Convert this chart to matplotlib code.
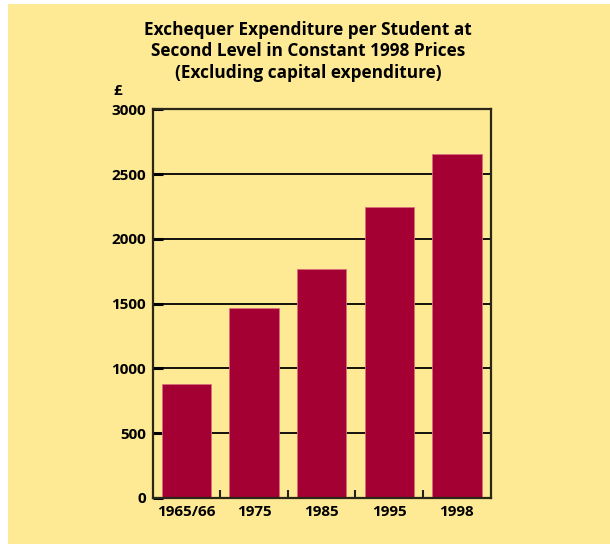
import matplotlib
matplotlib.use("Agg")
import matplotlib.pyplot as plt
from matplotlib.patches import Rectangle
import numpy as np

# values
years = ["1965/66", "1975", "1985", "1995", "1998"]
spend = [880, 1465, 1765, 2245, 2655]
yticks = [0, 500, 1000, 1500, 2000, 2500, 3000]

BG = "#FEE994"
BAR = "#A50034"

plt.rcParams['font.family'] = ['Open Sans', 'DejaVu Sans']

fig = plt.figure(figsize=(6.10, 5.44), dpi=100)
fig.patch.set_facecolor("white")
# yellow panel, white strip on left and top
fig.patches.append(Rectangle((8 / 610, 0), 1, 1 - 4 / 544, transform=fig.transFigure,
                             facecolor=BG, edgecolor="none", zorder=-10))

ax = fig.add_axes([0.2503, 0.0846, 0.8044 - 0.2503, 0.799 - 0.0846])
ax.set_facecolor(BG)

x = np.arange(len(years))
ax.bar(x, spend, width=0.73, color=BAR, edgecolor="#D8707A", linewidth=0.6, zorder=3)

ax.set_xlim(-0.5, len(years) - 0.5)
ax.set_ylim(0, 3000)
ax.set_yticks(yticks)
ax.set_yticklabels([str(v) for v in yticks], fontweight="bold", fontsize=11)
ax.set_xticks(x)
ax.set_xticklabels(years, fontweight="bold", fontsize=11)
ax.set_xticks(x[:-1] + 0.5, minor=True)

ax.yaxis.grid(True, color="black", linewidth=1.3, zorder=1)
ax.set_axisbelow(True)

ax.tick_params(axis="x", which="major", length=0, pad=5)
ax.tick_params(axis="x", which="minor", direction="in", length=6, width=1.5, color="#222")
ax.tick_params(axis="y", direction="in", length=7, width=2.2, pad=5, color="black")

for s in ax.spines.values():
    s.set_linewidth(1.6)
    s.set_color("#2a2618")
    s.set_zorder(4)

ax.text(-0.105, 1.03, "£", transform=ax.transAxes, fontweight="bold", fontsize=11,
        ha="center", va="bottom")

fig.text(0.505, 0.962, "Exchequer Expenditure per Student at\nSecond Level in Constant 1998 Prices\n(Excluding capital expenditure)",
         ha="center", va="top", fontweight="bold", fontsize=12.4, linespacing=1.25)

fig.savefig("out.png", dpi=100, facecolor=fig.get_facecolor())
